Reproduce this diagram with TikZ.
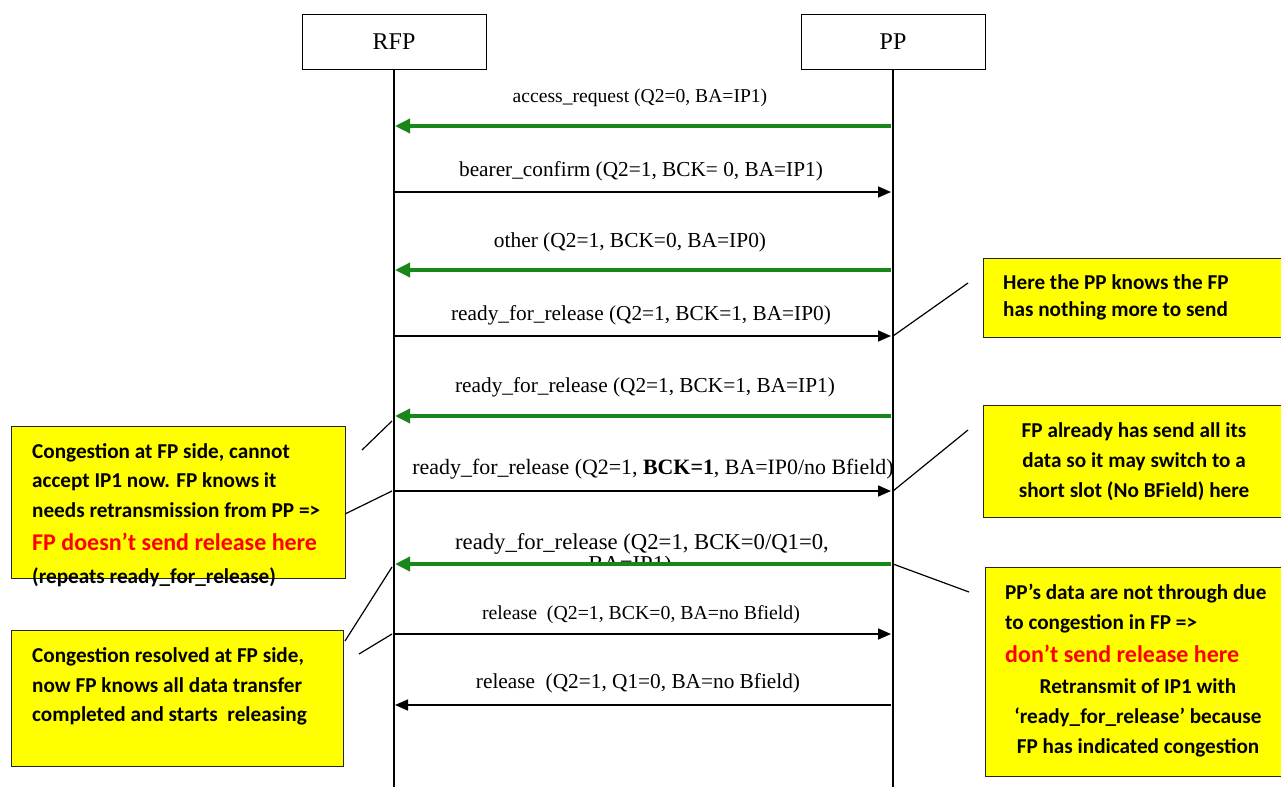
\documentclass[tikz,border=0pt]{standalone}
\usepackage{fontspec}
\setmainfont{Liberation Serif}
\newfontfamily\calib{Carlito}
\usetikzlibrary{arrows.meta}
\definecolor{msggreen}{RGB}{24,134,24}
\definecolor{notered}{RGB}{255,0,0}
\definecolor{noteyellow}{RGB}{255,255,0}
\newcommand{\fs}[1]{\fontsize{#1}{24}\selectfont}
\begin{document}
\begin{tikzpicture}[x=1pt,y=-1pt,
  lifebox/.style={draw, line width=1pt, minimum width=184pt, minimum height=55pt, inner sep=0pt, font=\fontsize{24}{28}\selectfont},
  lifeline/.style={line width=1.3pt},
  msglabel/.style={font=\fontsize{21.3}{24}\selectfont, inner sep=0pt, anchor=mid, yshift=-5pt},
  greenmsg/.style={draw=msggreen, line width=3.5pt, -{Triangle[length=15pt,width=14pt]}},
  blackmsg/.style={draw=black, line width=1.6pt, -{Triangle[length=13pt,width=11pt]}},
  notebox/.style={draw=black!85, fill=noteyellow, line width=1.2pt, inner sep=0pt, anchor=north west},
  notetext/.style={font=\calib\bfseries\fontsize{21.2}{24}\selectfont, inner sep=0pt, yshift=-5pt},
  notered/.style={font=\calib\bfseries\fontsize{24}{28}\selectfont, text=notered, inner sep=0pt, yshift=-5pt},
  pointer/.style={line width=1.2pt}
]
\useasboundingbox (0,0) rectangle (1281,787);
\fill[white] (0,0) rectangle (1281,787);

% lifelines
\node[lifebox] (rfp) at (394,41.5) {RFP};
\node[lifebox] (pp) at (893,41.5) {PP};
\coordinate (rfpend) at (394,787);
\coordinate (ppend) at (893,787);
\draw[lifeline] (rfp.south) -- (rfpend);
\draw[lifeline] (pp.south) -- (ppend);

% message end points
\foreach \n/\y in {1/126,2/192,3/270,4/336,5/416,6/491,7/564,8/634,9/705}{
  \coordinate (r\n) at (395,\y);
  \coordinate (p\n) at (891,\y);
}

% messages
\node[msglabel, font=\fs{19.6}] (m1) at (640,95) {access\_request (Q2=0, BA=IP1)};
\draw[greenmsg] (p1) -- (r1);
\node[msglabel] (m2) at (641,169) {bearer\_confirm (Q2=1, BCK= 0, BA=IP1)};
\draw[blackmsg] (r2) -- (p2);
\node[msglabel, font=\fs{21.4}] (m3) at (630,240) {other (Q2=1, BCK=0, BA=IP0)};
\draw[greenmsg] (p3) -- (r3);
\node[msglabel] (m4) at (641,313) {ready\_for\_release (Q2=1, BCK=1, BA=IP0)};
\draw[blackmsg] (r4) -- (p4);
\node[msglabel] (m5) at (645,385) {ready\_for\_release (Q2=1, BCK=1, BA=IP1)};
\draw[greenmsg] (p5) -- (r5);
\node[msglabel, font=\fs{21.9}] (m6) at (653,467) {ready\_for\_release (Q2=1, \textbf{BCK=1}, BA=IP0/no Bfield)};
\draw[blackmsg] (r6) -- (p6);
\node[msglabel, font=\fs{22.7}] (m7) at (642,542) {ready\_for\_release (Q2=1, BCK=0/Q1=0,};
\begin{scope}
  \clip (500,556) rectangle (800,561);
  \node[msglabel, font=\fs{22.7}] (m7b) at (630,564) {BA=IP1)};
\end{scope}
\draw[greenmsg] (p7) -- (r7);
\node[msglabel, font=\fs{19.8}] (m8) at (641,612) {release\ \ (Q2=1, BCK=0, BA=no Bfield)};
\draw[blackmsg] (r8) -- (p8);
\node[msglabel] (m9) at (638,681) {release\ \ (Q2=1, Q1=0, BA=no Bfield)};
\draw[blackmsg] (p9) -- (r9);

% right notes
\node[notebox, minimum width=299pt, minimum height=79pt] (n1) at (983,258) {};
\node[notetext, anchor=mid west] (n1a) at (1003,282) {Here the PP knows the FP};
\node[notetext, anchor=mid west] (n1b) at (1003,309) {has nothing more to send};

\node[notebox, minimum width=299pt, minimum height=112pt] (n2) at (983,405) {};
\node[notetext, anchor=mid] (n2a) at (1134,430) {FP already has send all its};
\node[notetext, anchor=mid] (n2b) at (1134,460) {data so it may switch to a};
\node[notetext, anchor=mid] (n2c) at (1134,490) {short slot (No BField) here};

\node[notebox, minimum width=297pt, minimum height=209pt] (n3) at (985,567) {};
\node[notetext, anchor=mid west] (n3a) at (1005,592) {PP’s data are not through due};
\node[notetext, anchor=mid west] (n3b) at (1005,622) {to congestion in FP =>};
\node[notered, anchor=mid west] (n3c) at (1005,655) {don’t send release here};
\node[notetext, anchor=mid] (n3d) at (1138,686) {Retransmit of IP1 with};
\node[notetext, anchor=mid] (n3e) at (1138,716) {‘ready\_for\_release’ because};
\node[notetext, anchor=mid] (n3f) at (1138,746) {FP has indicated congestion};

% left notes
\node[notebox, minimum width=334pt, minimum height=152pt] (l1) at (11,426) {};
\node[notetext, anchor=mid west] (l1a) at (32,451) {Congestion at FP side, cannot};
\node[notetext, anchor=mid west] (l1b) at (32,480) {accept IP1 now. FP knows it};
\node[notetext, anchor=mid west] (l1c) at (32,510) {needs retransmission from PP =>};
\node[notered, anchor=mid west] (l1d) at (32,543) {FP doesn’t send release here};
\node[notetext, anchor=mid west] (l1e) at (32,576) {(repeats ready\_for\_release)};

\node[notebox, minimum width=332pt, minimum height=136pt] (l2) at (11,630) {};
\node[notetext, anchor=mid west] (l2a) at (32,655) {Congestion resolved at FP side,};
\node[notetext, anchor=mid west] (l2b) at (32,685) {now FP knows all data transfer};
\node[notetext, anchor=mid west] (l2c) at (32,714) {completed and starts\ \ releasing};

% pointer lines
\coordinate (q1) at (968,283);
\coordinate (q2) at (968,430);
\coordinate (q3) at (969,592);
\coordinate (q4a) at (362,450);
\coordinate (q4b) at (392,421);
\coordinate (q5a) at (345,514);
\coordinate (q6a) at (345,641);
\coordinate (q6b) at (392,567);
\coordinate (q7a) at (359,654);
\coordinate (q7b) at (392,634);
\coordinate (s4) at (893,336);
\coordinate (s6) at (893,491);
\coordinate (s7) at (893,564);
\coordinate (s5) at (392,491);
\draw[pointer] (s4) -- (q1);
\draw[pointer] (s6) -- (q2);
\draw[pointer] (s7) -- (q3);
\draw[pointer] (q4a) -- (q4b);
\draw[pointer] (q5a) -- (s5);
\draw[pointer] (q6a) -- (q6b);
\draw[pointer] (q7a) -- (q7b);
\end{tikzpicture}
\end{document}
